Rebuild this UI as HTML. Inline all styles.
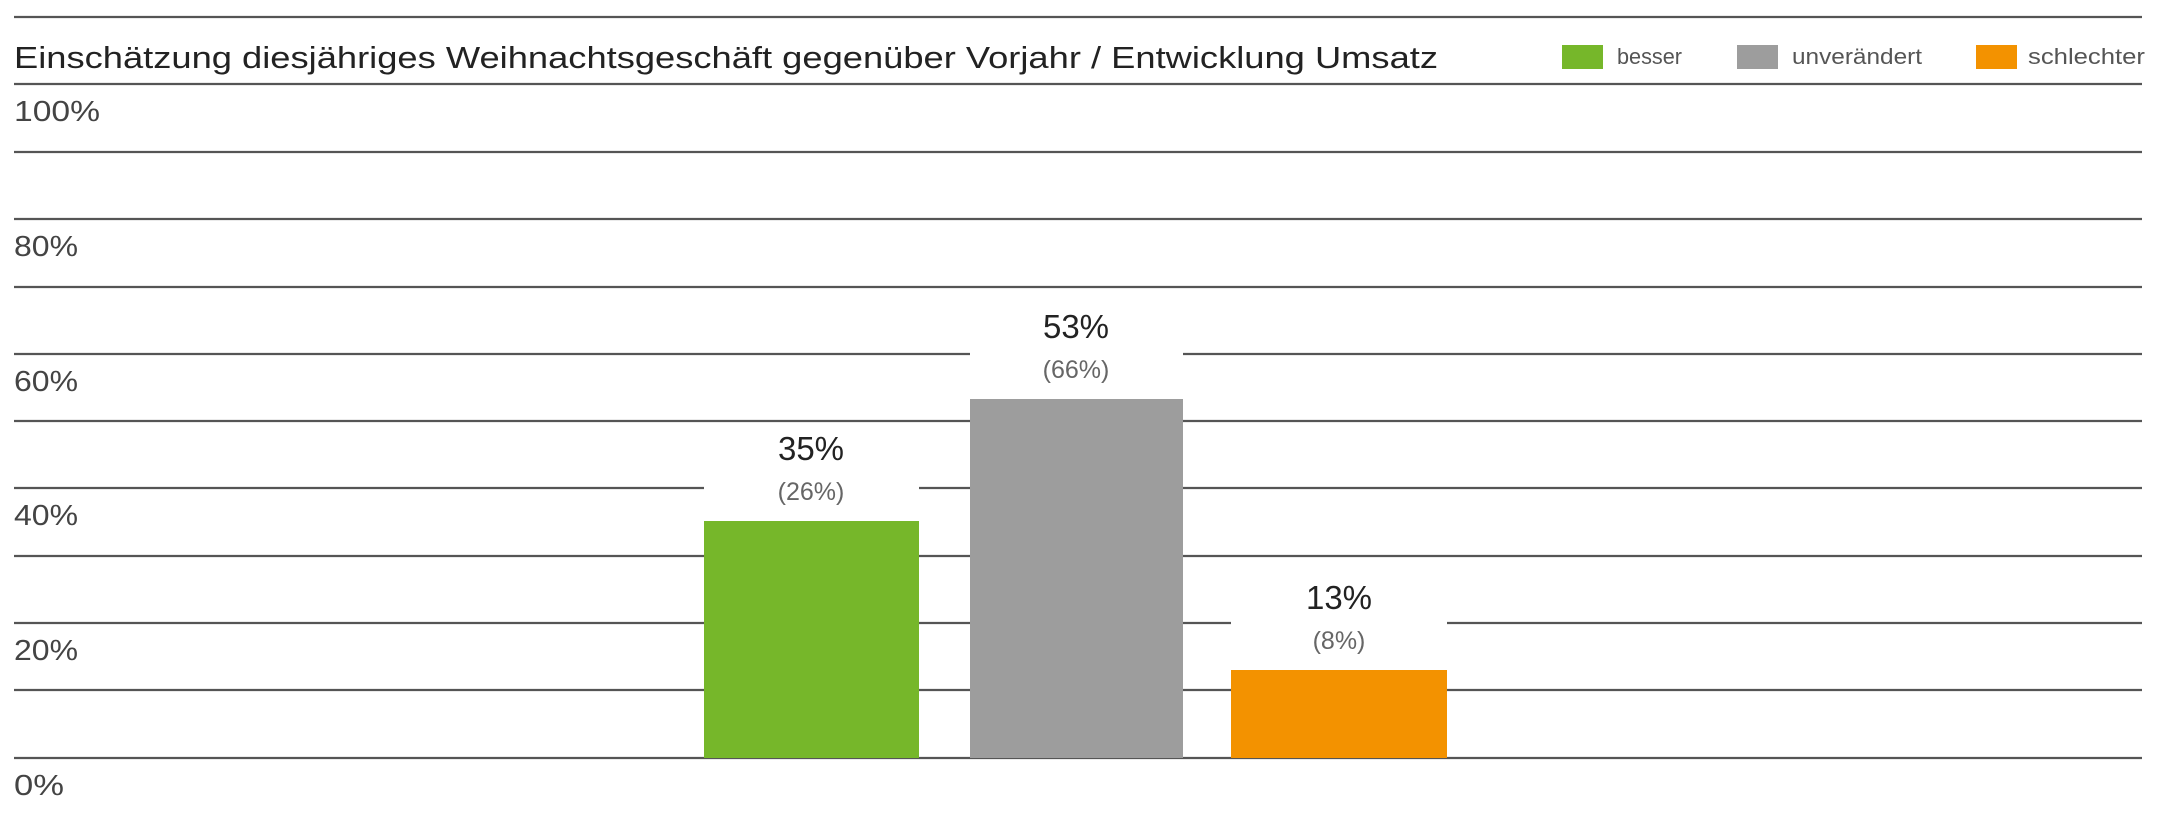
<!DOCTYPE html>
<html><head><meta charset="utf-8"><style>
html,body{margin:0;padding:0;background:#fff;}
svg{display:block;font-family:"Liberation Sans",sans-serif;}
</style></head><body>
<svg width="2157" height="817" viewBox="0 0 2157 817">
<g stroke="#555" stroke-width="2.2">
<line x1="14" y1="17" x2="2142" y2="17"/>
<line x1="14" y1="84" x2="2142" y2="84"/>
<line x1="14" y1="152" x2="2142" y2="152"/>
<line x1="14" y1="219" x2="2142" y2="219"/>
<line x1="14" y1="287" x2="2142" y2="287"/>
<line x1="14" y1="354" x2="2142" y2="354"/>
<line x1="14" y1="421" x2="2142" y2="421"/>
<line x1="14" y1="488" x2="2142" y2="488"/>
<line x1="14" y1="556" x2="2142" y2="556"/>
<line x1="14" y1="623" x2="2142" y2="623"/>
<line x1="14" y1="690" x2="2142" y2="690"/>
<line x1="14" y1="758" x2="2142" y2="758"/>
</g>
<text x="14" y="68" font-size="31" fill="#222" textLength="1424" lengthAdjust="spacingAndGlyphs">Einschätzung diesjähriges Weihnachtsgeschäft gegenüber Vorjahr / Entwicklung Umsatz</text>
<rect x="1562" y="45" width="41" height="24" fill="#76b72a"/>
<text x="1617" y="64" font-size="22" fill="#555" textLength="65" lengthAdjust="spacingAndGlyphs">besser</text>
<rect x="1737" y="45" width="41" height="24" fill="#9d9d9d"/>
<text x="1792" y="64" font-size="22" fill="#555" textLength="130" lengthAdjust="spacingAndGlyphs">unverändert</text>
<rect x="1976" y="45" width="41" height="24" fill="#f39200"/>
<text x="2028" y="64" font-size="22" fill="#555" textLength="117" lengthAdjust="spacingAndGlyphs">schlechter</text>
<g font-size="29" fill="#444">
<text x="14" y="121" textLength="86" lengthAdjust="spacingAndGlyphs">100%</text>
<text x="14" y="256" textLength="64" lengthAdjust="spacingAndGlyphs">80%</text>
<text x="14" y="391" textLength="64" lengthAdjust="spacingAndGlyphs">60%</text>
<text x="14" y="525" textLength="64" lengthAdjust="spacingAndGlyphs">40%</text>
<text x="14" y="660" textLength="64" lengthAdjust="spacingAndGlyphs">20%</text>
<text x="14" y="795" textLength="50" lengthAdjust="spacingAndGlyphs">0%</text>
</g>
<rect x="704" y="425" width="215" height="96" fill="#fff"/>
<rect x="970" y="292" width="213" height="107" fill="#fff"/>
<rect x="1231" y="560" width="216" height="110" fill="#fff"/>
<rect x="704" y="521" width="215" height="237" fill="#76b72a"/>
<rect x="970" y="399" width="213" height="359" fill="#9d9d9d"/>
<rect x="1231" y="670" width="216" height="88" fill="#f39200"/>
<g text-anchor="middle">
<text x="811" y="460" font-size="33" fill="#222">35%</text>
<text x="811" y="500" font-size="25" fill="#666">(26%)</text>
<text x="1076" y="338" font-size="33" fill="#222">53%</text>
<text x="1076" y="378" font-size="25" fill="#666">(66%)</text>
<text x="1339" y="609" font-size="33" fill="#222">13%</text>
<text x="1339" y="649" font-size="25" fill="#666">(8%)</text>
</g>
</svg>
</body></html>
